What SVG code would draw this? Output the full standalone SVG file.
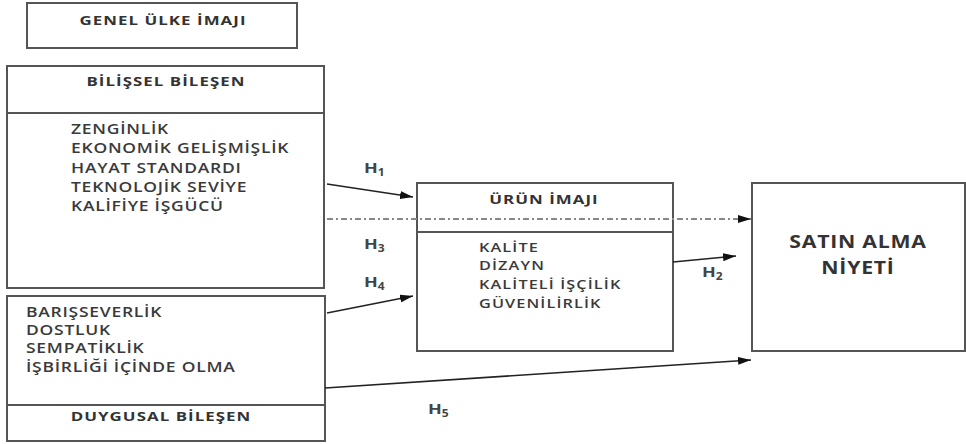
<svg xmlns="http://www.w3.org/2000/svg" width="966" height="444" viewBox="0 0 966 444">
<defs>
<marker id="ah" viewBox="0 0 13 8" refX="13" refY="4" markerWidth="13" markerHeight="8" markerUnits="userSpaceOnUse" orient="auto">
<path d="M0,0 L13,4 L0,8 z" fill="#111"/>
</marker>
</defs>
<style>
.box{fill:#fff;stroke:#555;stroke-width:2}
.div{stroke:#555;stroke-width:2}
.t{font-family:"Open Sans","Liberation Sans",sans-serif;font-weight:bold;font-size:13px;fill:#333;letter-spacing:0.8px;text-anchor:middle}
.l{font-family:"Open Sans","Liberation Sans",sans-serif;font-weight:600;font-size:14px;fill:#3a3a3a;letter-spacing:0.6px}
.l2{font-family:"Open Sans","Liberation Sans",sans-serif;font-weight:600;font-size:13px;fill:#3a3a3a;letter-spacing:0.9px}
.big{font-family:"Open Sans","Liberation Sans",sans-serif;font-weight:bold;font-size:17px;fill:#333;letter-spacing:0.6px;text-anchor:middle}
.h{font-family:"Open Sans","Liberation Sans",sans-serif;font-weight:bold;font-size:15px;fill:#444}
.sub{font-size:10px}
.c{stroke:#222;stroke-width:1.6;fill:none;marker-end:url(#ah)}
.dd{stroke:#888;stroke-width:2;fill:none;stroke-dasharray:6 3 2 3;marker-end:url(#ah)}
</style>
<g id="genel">
<rect class="box" x="27" y="3" width="270" height="45"/>
<g transform="translate(163,0) scale(1.3,1)"><text class="t" x="0" y="25">GENEL ÜLKE İMAJI</text></g>
</g>
<g id="bilissel">
<rect class="box" x="7" y="66" width="317" height="222"/>
<line class="div" x1="7" y1="113" x2="324" y2="113"/>
<g transform="translate(166,0) scale(1.3,1)"><text class="t" x="0" y="86">BİLİŞSEL BİLEŞEN</text></g>
<g transform="translate(71,0) scale(1.25,1)">
<text class="l" x="0" y="134">ZENGİNLİK</text>
<text class="l" x="0" y="153">EKONOMİK GELİŞMİŞLİK</text>
<text class="l" x="0" y="173">HAYAT STANDARDI</text>
<text class="l" x="0" y="192">TEKNOLOJİK SEVİYE</text>
<text class="l" x="0" y="211">KALİFİYE İŞGÜCÜ</text>
</g>
</g>
<g id="duygusal">
<rect class="box" x="7" y="296" width="318" height="145"/>
<line class="div" x1="7" y1="405" x2="325" y2="405"/>
<g transform="translate(26,0) scale(1.25,1)">
<text class="l" x="0" y="317">BARIŞSEVERLİK</text>
<text class="l" x="0" y="335">DOSTLUK</text>
<text class="l" x="0" y="353">SEMPATİKLİK</text>
<text class="l" x="0" y="372">İŞBİRLİĞİ İÇİNDE OLMA</text>
</g>
<g transform="translate(161,0) scale(1.3,1)"><text class="t" x="0" y="421">DUYGUSAL BİLEŞEN</text></g>
</g>
<g id="urun">
<rect class="box" x="417" y="183" width="256" height="168"/>
<line class="div" x1="417" y1="232" x2="673" y2="232"/>
<g transform="translate(544,0) scale(1.3,1)"><text class="t" x="0" y="204">ÜRÜN İMAJI</text></g>
<g transform="translate(479,0) scale(1.25,1)">
<text class="l2" x="0" y="252">KALİTE</text>
<text class="l2" x="0" y="270">DİZAYN</text>
<text class="l2" x="0" y="289">KALİTELİ İŞÇİLİK</text>
<text class="l2" x="0" y="308">GÜVENİLİRLİK</text>
</g>
</g>
<g id="satin">
<rect class="box" x="752" y="183" width="213" height="168"/>
<g transform="translate(858,0) scale(1.25,1)">
<text class="big" x="0" y="248">SATIN ALMA</text>
<text class="big" x="0" y="274">NİYETİ</text>
</g>
</g>
<g id="connectors">
<line class="c" x1="327" y1="184" x2="413" y2="197"/>
<line class="dd" x1="327" y1="219" x2="751" y2="219"/>
<line class="c" x1="327" y1="313" x2="413" y2="296"/>
<line class="c" x1="673" y1="262" x2="736" y2="256"/>
<line class="c" x1="325" y1="388" x2="751" y2="360"/>
<g transform="translate(364,0) scale(1.2,1)"><text class="h" x="0" y="173">H<tspan class="sub" dy="3">1</tspan></text></g>
<g transform="translate(364,0) scale(1.2,1)"><text class="h" x="0" y="249">H<tspan class="sub" dy="3">3</tspan></text></g>
<g transform="translate(364,0) scale(1.2,1)"><text class="h" x="0" y="287">H<tspan class="sub" dy="3">4</tspan></text></g>
<g transform="translate(702,0) scale(1.2,1)"><text class="h" x="0" y="277">H<tspan class="sub" dy="3">2</tspan></text></g>
<g transform="translate(428,0) scale(1.2,1)"><text class="h" x="0" y="414">H<tspan class="sub" dy="3">5</tspan></text></g>
</g>
</svg>
